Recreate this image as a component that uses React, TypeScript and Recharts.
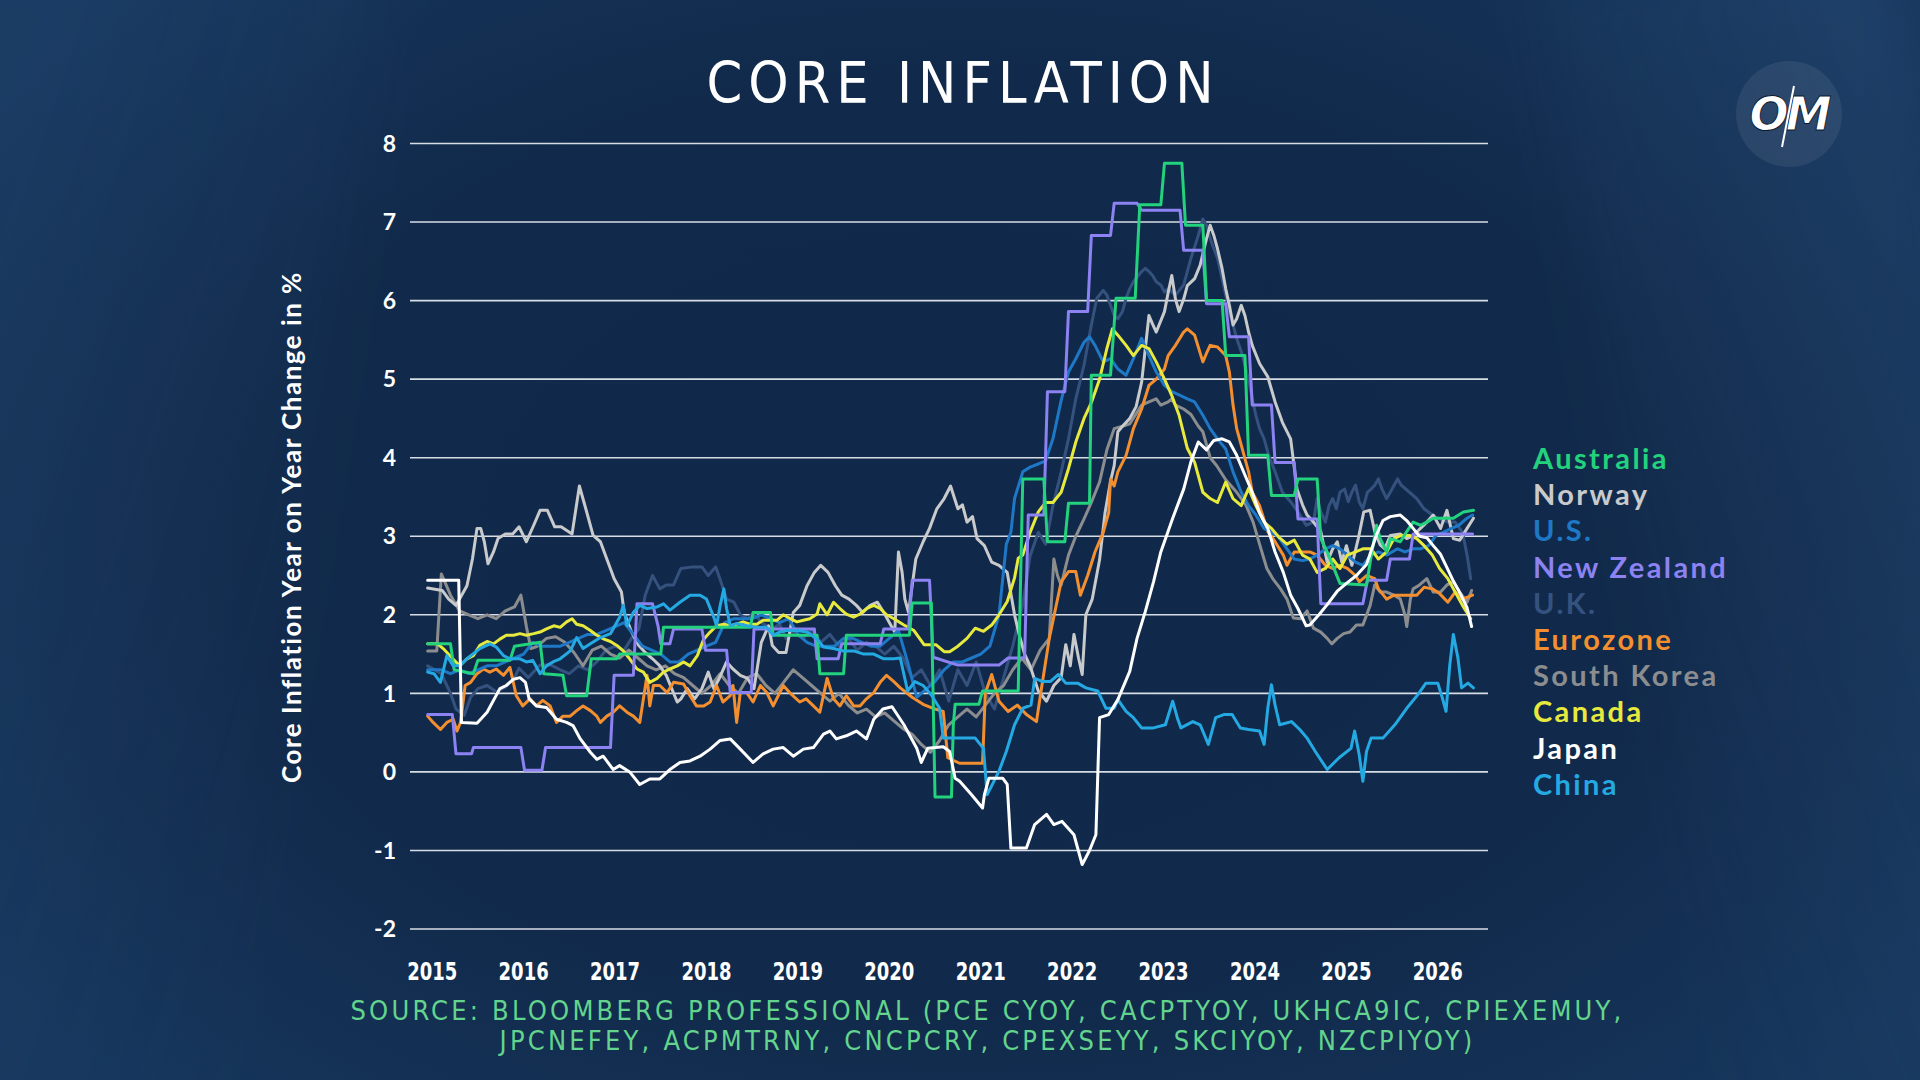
import React from 'react';
import { LineChart, Line, XAxis, YAxis, CartesianGrid } from 'recharts';

type Pt = [number, number];

// Axis ticks
const yearTicks = [2015, 2016, 2017, 2018, 2019, 2020, 2021, 2022, 2023, 2024, 2025, 2026];
const valueTicks = [-2, -1, 0, 1, 2, 3, 4, 5, 6, 7, 8];

// Core inflation, year-on-year % — [decimal year, value]
const australia: Pt[] = [
  [2014.95, 1.63], [2015.2, 1.63], [2015.24, 1.3], [2015.45, 1.25], [2015.5, 1.42], [2015.85, 1.42], [2015.9, 1.6], [2016.18, 1.65],
  [2016.22, 1.25], [2016.43, 1.23], [2016.47, 0.97], [2016.69, 0.97], [2016.74, 1.44], [2017.02, 1.44], [2017.05, 1.5], [2017.5, 1.5],
  [2017.53, 1.84], [2018.48, 1.84], [2018.51, 2.03], [2018.7, 2.03], [2018.73, 1.74], [2019.21, 1.74], [2019.24, 1.25], [2019.5, 1.25],
  [2019.53, 1.74], [2020.22, 1.74], [2020.25, 2.15], [2020.46, 2.15], [2020.5, -0.32], [2020.68, -0.32], [2020.7, 0.6], [2020.72, 0.86],
  [2020.98, 0.86], [2021.02, 1.03], [2021.41, 1.03], [2021.46, 3.73], [2021.69, 3.73], [2021.73, 2.93], [2021.92, 2.93], [2021.96, 3.42],
  [2022.19, 3.42], [2022.21, 5.05], [2022.42, 5.05], [2022.48, 6.03], [2022.69, 6.03], [2022.74, 7.22], [2022.97, 7.22], [2023.01, 7.75],
  [2023.2, 7.75], [2023.24, 6.96], [2023.43, 6.96], [2023.47, 6.0], [2023.64, 6.0], [2023.68, 5.3], [2023.89, 5.3], [2023.93, 4.03],
  [2024.14, 4.03], [2024.18, 3.52], [2024.43, 3.52], [2024.47, 3.73], [2024.68, 3.73], [2024.72, 2.97], [2024.79, 2.8], [2024.86, 2.6],
  [2024.93, 2.4], [2025.22, 2.38], [2025.26, 2.67], [2025.33, 3.14], [2025.37, 2.97], [2025.44, 2.8], [2025.48, 2.97], [2025.59, 2.93],
  [2025.66, 3.06], [2025.73, 3.18], [2025.81, 3.14], [2025.88, 3.18], [2025.95, 3.23], [2026.03, 3.23], [2026.17, 3.23], [2026.28, 3.31],
  [2026.39, 3.33],
];

const norway: Pt[] = [
  [2014.95, 2.34], [2015.11, 2.31], [2015.18, 2.2], [2015.26, 2.12], [2015.38, 2.37], [2015.44, 2.71], [2015.49, 3.1], [2015.53, 3.1],
  [2015.57, 2.93], [2015.61, 2.65], [2015.67, 2.8], [2015.72, 2.97], [2015.8, 3.03], [2015.88, 3.03], [2015.95, 3.12], [2016.03, 2.93],
  [2016.11, 3.14], [2016.18, 3.33], [2016.26, 3.33], [2016.34, 3.12], [2016.41, 3.12], [2016.53, 3.03], [2016.61, 3.64], [2016.68, 3.35],
  [2016.76, 3.01], [2016.84, 2.93], [2016.91, 2.71], [2016.99, 2.46], [2017.07, 2.29], [2017.1, 2.03], [2017.18, 1.78], [2017.26, 1.61],
  [2017.33, 1.52], [2017.41, 1.44], [2017.49, 1.35], [2017.56, 1.23], [2017.62, 1.06], [2017.68, 0.89], [2017.72, 0.93], [2017.79, 1.06],
  [2017.87, 0.93], [2017.95, 1.06], [2018.02, 1.27], [2018.08, 1.06], [2018.14, 1.19], [2018.22, 1.4], [2018.29, 1.31], [2018.37, 1.23],
  [2018.45, 1.19], [2018.52, 1.06], [2018.6, 1.65], [2018.68, 1.86], [2018.72, 1.61], [2018.79, 1.52], [2018.87, 1.52], [2018.95, 2.03],
  [2019.02, 2.12], [2019.1, 2.37], [2019.18, 2.54], [2019.25, 2.63], [2019.33, 2.54], [2019.41, 2.37], [2019.48, 2.25], [2019.56, 2.2],
  [2019.64, 2.12], [2019.71, 2.03], [2019.79, 2.12], [2019.87, 2.16], [2019.94, 2.03], [2020.02, 1.86], [2020.06, 1.78], [2020.1, 2.8],
  [2020.14, 2.54], [2020.17, 2.2], [2020.21, 2.03], [2020.25, 2.37], [2020.29, 2.71], [2020.37, 2.93], [2020.44, 3.1], [2020.52, 3.35],
  [2020.6, 3.48], [2020.67, 3.64], [2020.75, 3.35], [2020.8, 3.4], [2020.85, 3.18], [2020.91, 3.25], [2020.96, 2.97], [2021.04, 2.88],
  [2021.12, 2.67], [2021.2, 2.63], [2021.29, 2.54], [2021.37, 2.0], [2021.42, 1.75], [2021.48, 1.5], [2021.54, 1.35], [2021.63, 1.03],
  [2021.72, 0.9], [2021.8, 1.1], [2021.88, 1.2], [2021.93, 1.62], [2021.98, 1.35], [2022.02, 1.75], [2022.07, 1.45], [2022.11, 1.24],
  [2022.15, 2.0], [2022.22, 2.2], [2022.3, 2.7], [2022.36, 3.3], [2022.42, 3.7], [2022.46, 3.9], [2022.5, 4.33], [2022.55, 4.4],
  [2022.63, 4.5], [2022.7, 4.65], [2022.76, 4.96], [2022.84, 5.81], [2022.88, 5.7], [2022.92, 5.6], [2023.01, 5.86], [2023.05, 6.1],
  [2023.09, 6.32], [2023.13, 6.02], [2023.17, 5.86], [2023.22, 6.02], [2023.26, 6.19], [2023.34, 6.28], [2023.4, 6.45], [2023.47, 6.79],
  [2023.51, 6.96], [2023.55, 6.83], [2023.59, 6.66], [2023.64, 6.41], [2023.68, 6.15], [2023.72, 5.94], [2023.76, 5.69], [2023.8, 5.77],
  [2023.85, 5.94], [2023.89, 5.81], [2023.93, 5.6], [2023.97, 5.43], [2024.05, 5.2], [2024.14, 5.03], [2024.22, 4.71], [2024.3, 4.45],
  [2024.39, 4.24], [2024.46, 3.6], [2024.52, 3.4], [2024.57, 3.27], [2024.64, 3.18], [2024.72, 3.06], [2024.79, 2.67], [2024.85, 2.84],
  [2024.9, 2.93], [2024.95, 2.67], [2025.0, 2.88], [2025.06, 2.63], [2025.13, 2.97], [2025.19, 3.31], [2025.26, 3.33], [2025.31, 3.06],
  [2025.37, 2.89], [2025.42, 2.84], [2025.48, 3.01], [2025.59, 3.03], [2025.66, 2.97], [2025.73, 3.01], [2025.81, 3.1], [2025.88, 3.18],
  [2025.95, 3.27], [2026.03, 3.1], [2026.1, 3.33], [2026.17, 2.97], [2026.24, 2.95], [2026.32, 3.1], [2026.39, 3.23],
];

const unitedStates: Pt[] = [
  [2014.95, 1.3], [2015.1, 1.3], [2015.2, 1.25], [2015.3, 1.3], [2015.4, 1.25], [2015.5, 1.3], [2015.6, 1.35], [2015.7, 1.35],
  [2015.8, 1.4], [2015.9, 1.45], [2016.0, 1.5], [2016.1, 1.65], [2016.2, 1.6], [2016.3, 1.6], [2016.4, 1.6], [2016.5, 1.65],
  [2016.6, 1.7], [2016.7, 1.75], [2016.8, 1.75], [2016.9, 1.8], [2017.0, 1.85], [2017.1, 1.9], [2017.2, 1.75], [2017.3, 1.6],
  [2017.4, 1.55], [2017.5, 1.5], [2017.6, 1.4], [2017.7, 1.4], [2017.8, 1.5], [2017.9, 1.55], [2018.0, 1.6], [2018.1, 1.65],
  [2018.2, 1.9], [2018.3, 1.95], [2018.4, 1.95], [2018.5, 1.95], [2018.6, 2.0], [2018.7, 1.95], [2018.8, 1.9], [2018.9, 1.95],
  [2019.0, 1.75], [2019.1, 1.65], [2019.2, 1.6], [2019.3, 1.6], [2019.4, 1.6], [2019.5, 1.7], [2019.6, 1.7], [2019.7, 1.65],
  [2019.8, 1.6], [2019.9, 1.6], [2020.0, 1.7], [2020.1, 1.8], [2020.2, 1.4], [2020.3, 0.95], [2020.4, 1.05], [2020.5, 1.15],
  [2020.6, 1.3], [2020.7, 1.4], [2020.8, 1.4], [2020.9, 1.45], [2021.0, 1.5], [2021.1, 1.6], [2021.2, 2.0], [2021.28, 2.9],
  [2021.33, 3.05], [2021.37, 3.48], [2021.46, 3.82], [2021.54, 3.88], [2021.63, 3.92], [2021.71, 3.96], [2021.79, 4.24], [2021.88, 4.73],
  [2021.96, 5.09], [2022.04, 5.26], [2022.13, 5.47], [2022.19, 5.54], [2022.25, 5.43], [2022.34, 5.22], [2022.42, 5.26], [2022.5, 5.13],
  [2022.59, 5.05], [2022.67, 5.26], [2022.76, 5.52], [2022.84, 5.3], [2022.92, 5.09], [2023.01, 4.92], [2023.09, 4.84], [2023.17, 4.8],
  [2023.26, 4.75], [2023.34, 4.71], [2023.43, 4.54], [2023.51, 4.37], [2023.59, 4.24], [2023.68, 4.11], [2023.76, 3.82], [2023.85, 3.56],
  [2023.93, 3.39], [2024.01, 3.27], [2024.1, 3.1], [2024.18, 3.05], [2024.26, 2.99], [2024.35, 2.84], [2024.43, 2.71], [2024.52, 2.69],
  [2024.6, 2.71], [2024.68, 2.76], [2024.77, 2.84], [2024.85, 2.88], [2024.93, 2.84], [2025.01, 2.76], [2025.1, 2.67], [2025.18, 2.63],
  [2025.27, 2.76], [2025.35, 2.8], [2025.44, 2.76], [2025.56, 2.84], [2025.64, 2.8], [2025.73, 2.84], [2025.81, 2.84], [2025.9, 2.88],
  [2025.98, 3.01], [2026.06, 3.05], [2026.15, 3.1], [2026.23, 3.14], [2026.32, 3.23], [2026.38, 3.27],
];

const newZealand: Pt[] = [
  [2014.95, 0.73], [2015.22, 0.73], [2015.26, 0.23], [2015.43, 0.23], [2015.45, 0.31], [2015.97, 0.31], [2016.01, 0.02], [2016.2, 0.02],
  [2016.24, 0.31], [2016.95, 0.31], [2016.99, 1.23], [2017.2, 1.23], [2017.24, 2.14], [2017.41, 2.14], [2017.47, 1.86], [2017.5, 1.63],
  [2017.6, 1.63], [2017.64, 1.82], [2017.95, 1.82], [2017.99, 1.55], [2018.22, 1.55], [2018.26, 1.01], [2018.49, 1.01], [2018.52, 1.82],
  [2019.18, 1.82], [2019.21, 1.44], [2019.44, 1.44], [2019.48, 1.63], [2019.9, 1.63], [2019.94, 1.82], [2020.21, 1.82], [2020.25, 2.44],
  [2020.44, 2.44], [2020.48, 1.46], [2020.75, 1.36], [2021.2, 1.36], [2021.3, 1.45], [2021.48, 1.45], [2021.52, 3.27], [2021.69, 3.27],
  [2021.73, 4.84], [2021.92, 4.84], [2021.96, 5.86], [2022.17, 5.86], [2022.21, 6.83], [2022.42, 6.83], [2022.46, 7.24], [2022.71, 7.24],
  [2022.76, 7.15], [2023.18, 7.15], [2023.22, 6.64], [2023.43, 6.64], [2023.47, 5.96], [2023.68, 5.96], [2023.72, 5.54], [2023.93, 5.54],
  [2023.97, 4.67], [2024.18, 4.67], [2024.22, 3.94], [2024.43, 3.94], [2024.47, 3.22], [2024.68, 3.22], [2024.72, 2.14], [2025.18, 2.14],
  [2025.23, 2.44], [2025.44, 2.44], [2025.48, 2.71], [2025.69, 2.71], [2025.73, 3.03], [2026.38, 3.03],
];

const unitedKingdom: Pt[] = [
  [2014.95, 1.35], [2015.1, 1.25], [2015.2, 1.0], [2015.26, 0.8], [2015.35, 0.72], [2015.42, 0.95], [2015.5, 1.06], [2015.6, 1.1],
  [2015.7, 1.02], [2015.8, 1.08], [2015.9, 1.2], [2015.95, 1.32], [2016.05, 1.2], [2016.18, 1.36], [2016.3, 1.36], [2016.4, 1.3],
  [2016.5, 1.25], [2016.6, 1.35], [2016.7, 1.3], [2016.8, 1.4], [2016.9, 1.55], [2017.0, 1.6], [2017.1, 1.55], [2017.18, 1.7],
  [2017.26, 1.82], [2017.33, 2.25], [2017.41, 2.5], [2017.49, 2.33], [2017.56, 2.38], [2017.64, 2.38], [2017.72, 2.59], [2017.85, 2.61],
  [2017.95, 2.61], [2018.02, 2.5], [2018.1, 2.61], [2018.15, 2.45], [2018.22, 2.2], [2018.3, 2.16], [2018.37, 2.0], [2018.45, 1.95],
  [2018.52, 2.03], [2018.6, 1.9], [2018.72, 1.82], [2018.8, 1.88], [2018.87, 1.7], [2018.95, 1.78], [2019.05, 1.7], [2019.15, 1.8],
  [2019.25, 1.65], [2019.35, 1.75], [2019.45, 1.6], [2019.55, 1.7], [2019.65, 1.55], [2019.75, 1.65], [2019.85, 1.6], [2019.95, 1.5],
  [2020.05, 1.6], [2020.15, 1.45], [2020.25, 1.2], [2020.35, 1.3], [2020.45, 1.1], [2020.55, 1.3], [2020.65, 0.9], [2020.75, 1.3],
  [2020.85, 1.1], [2020.95, 1.4], [2021.05, 1.0], [2021.15, 0.8], [2021.25, 1.2], [2021.35, 1.6], [2021.46, 2.13], [2021.54, 2.75],
  [2021.63, 3.05], [2021.71, 2.9], [2021.79, 3.39], [2021.88, 3.82], [2021.96, 4.24], [2022.04, 4.75], [2022.13, 5.18], [2022.21, 5.69],
  [2022.27, 6.03], [2022.34, 6.13], [2022.38, 6.07], [2022.46, 5.81], [2022.5, 5.77], [2022.55, 5.86], [2022.59, 6.03], [2022.63, 6.15],
  [2022.67, 6.24], [2022.76, 6.37], [2022.8, 6.41], [2022.84, 6.37], [2022.88, 6.32], [2022.92, 6.24], [2022.97, 6.2], [2023.01, 6.11],
  [2023.05, 6.15], [2023.13, 6.07], [2023.22, 6.2], [2023.3, 6.54], [2023.38, 6.83], [2023.43, 7.04], [2023.47, 6.96], [2023.51, 6.79],
  [2023.55, 6.66], [2023.59, 6.54], [2023.64, 6.28], [2023.68, 6.07], [2023.72, 5.86], [2023.76, 5.69], [2023.8, 5.52], [2023.85, 5.35],
  [2023.89, 5.18], [2023.93, 5.0], [2023.97, 4.75], [2024.01, 4.54], [2024.05, 4.37], [2024.1, 4.24], [2024.14, 4.07], [2024.18, 3.94],
  [2024.22, 3.82], [2024.26, 3.69], [2024.3, 3.56], [2024.39, 3.44], [2024.47, 3.31], [2024.56, 3.14], [2024.64, 3.18], [2024.68, 3.48],
  [2024.72, 3.31], [2024.77, 3.18], [2024.81, 3.39], [2024.85, 3.48], [2024.89, 3.35], [2024.93, 3.56], [2024.98, 3.6], [2025.02, 3.44],
  [2025.06, 3.56], [2025.1, 3.65], [2025.14, 3.44], [2025.18, 3.35], [2025.23, 3.56], [2025.27, 3.6], [2025.31, 3.65], [2025.35, 3.73],
  [2025.39, 3.6], [2025.44, 3.48], [2025.48, 3.56], [2025.56, 3.73], [2025.6, 3.65], [2025.69, 3.56], [2025.77, 3.48], [2025.85, 3.35],
  [2025.94, 3.27], [2026.02, 3.22], [2026.11, 3.18], [2026.19, 3.18], [2026.27, 3.05], [2026.32, 2.76], [2026.36, 2.46],
];

const eurozone: Pt[] = [
  [2014.95, 0.71], [2015.01, 0.63], [2015.09, 0.54], [2015.16, 0.63], [2015.23, 0.67], [2015.27, 0.52], [2015.31, 0.63], [2015.36, 1.1],
  [2015.42, 1.14], [2015.49, 1.25], [2015.56, 1.31], [2015.63, 1.27], [2015.7, 1.31], [2015.78, 1.23], [2015.85, 1.33], [2015.92, 0.97],
  [2015.99, 0.84], [2016.07, 0.93], [2016.14, 0.84], [2016.21, 0.91], [2016.29, 0.84], [2016.36, 0.63], [2016.43, 0.71], [2016.51, 0.71],
  [2016.58, 0.78], [2016.65, 0.84], [2016.73, 0.78], [2016.8, 0.71], [2016.84, 0.63], [2016.91, 0.71], [2016.98, 0.76], [2017.05, 0.84],
  [2017.13, 0.76], [2017.2, 0.71], [2017.27, 0.63], [2017.35, 1.23], [2017.38, 0.84], [2017.42, 1.1], [2017.49, 1.1], [2017.57, 1.01],
  [2017.64, 1.14], [2017.75, 1.12], [2017.82, 0.97], [2017.89, 0.84], [2017.97, 0.84], [2018.04, 0.89], [2018.11, 1.1], [2018.18, 0.89],
  [2018.26, 0.97], [2018.29, 1.1], [2018.33, 0.63], [2018.37, 1.01], [2018.44, 1.01], [2018.51, 0.89], [2018.59, 1.1], [2018.66, 1.01],
  [2018.73, 0.84], [2018.84, 1.1], [2018.91, 1.01], [2019.02, 0.89], [2019.09, 0.93], [2019.17, 0.84], [2019.24, 0.76], [2019.32, 1.19],
  [2019.39, 0.93], [2019.46, 0.84], [2019.53, 0.97], [2019.61, 0.84], [2019.68, 0.84], [2019.75, 0.93], [2019.83, 1.01], [2019.9, 1.14],
  [2019.97, 1.23], [2020.05, 1.15], [2020.12, 1.07], [2020.25, 0.95], [2020.37, 0.86], [2020.5, 0.8], [2020.59, 0.77], [2020.64, 0.18],
  [2020.77, 0.11], [2021.02, 0.11], [2021.05, 1.0], [2021.12, 1.24], [2021.2, 0.9], [2021.3, 0.77], [2021.4, 0.85], [2021.5, 0.73],
  [2021.61, 0.64], [2021.66, 1.03], [2021.75, 1.7], [2021.88, 2.42], [2021.96, 2.55], [2022.04, 2.55], [2022.09, 2.25], [2022.17, 2.5],
  [2022.25, 2.8], [2022.34, 3.05], [2022.4, 3.3], [2022.42, 3.73], [2022.46, 3.64], [2022.5, 3.82], [2022.59, 4.03], [2022.67, 4.37],
  [2022.76, 4.62], [2022.84, 4.92], [2022.92, 5.0], [2023.01, 5.13], [2023.05, 5.3], [2023.13, 5.43], [2023.22, 5.6], [2023.26, 5.64],
  [2023.34, 5.56], [2023.43, 5.22], [2023.47, 5.33], [2023.51, 5.43], [2023.59, 5.41], [2023.68, 5.3], [2023.72, 5.09], [2023.76, 4.67],
  [2023.8, 4.37], [2023.85, 4.16], [2023.93, 3.82], [2023.97, 3.56], [2024.05, 3.39], [2024.14, 3.06], [2024.22, 2.93], [2024.31, 2.76],
  [2024.35, 2.63], [2024.43, 2.8], [2024.52, 2.8], [2024.6, 2.8], [2024.68, 2.76], [2024.77, 2.63], [2024.85, 2.59], [2024.93, 2.63],
  [2025.01, 2.59], [2025.1, 2.5], [2025.14, 2.42], [2025.22, 2.5], [2025.31, 2.46], [2025.35, 2.33], [2025.44, 2.2], [2025.52, 2.25],
  [2025.6, 2.25], [2025.69, 2.25], [2025.77, 2.25], [2025.85, 2.35], [2025.94, 2.33], [2026.02, 2.27], [2026.11, 2.16], [2026.19, 2.29],
  [2026.27, 2.2], [2026.38, 2.25],
];

const southKorea: Pt[] = [
  [2014.95, 1.54], [2015.05, 1.54], [2015.1, 2.52], [2015.2, 2.25], [2015.3, 2.05], [2015.4, 2.0], [2015.5, 1.95], [2015.6, 2.0],
  [2015.7, 1.95], [2015.8, 2.05], [2015.9, 2.1], [2015.97, 2.25], [2016.03, 1.85], [2016.08, 1.57], [2016.15, 1.6], [2016.25, 1.7],
  [2016.35, 1.72], [2016.45, 1.65], [2016.55, 1.52], [2016.65, 1.35], [2016.75, 1.55], [2016.85, 1.6], [2016.95, 1.5], [2017.05, 1.45],
  [2017.15, 1.55], [2017.25, 1.45], [2017.35, 1.35], [2017.45, 1.3], [2017.55, 1.35], [2017.65, 1.25], [2017.75, 1.2], [2017.85, 1.1],
  [2017.95, 1.0], [2018.05, 1.1], [2018.15, 1.25], [2018.25, 1.1], [2018.35, 1.0], [2018.45, 1.2], [2018.55, 1.25], [2018.65, 1.1],
  [2018.75, 1.0], [2018.85, 1.15], [2018.95, 1.3], [2019.05, 1.2], [2019.15, 1.1], [2019.25, 1.0], [2019.35, 0.9], [2019.45, 1.0],
  [2019.55, 0.85], [2019.65, 0.75], [2019.75, 0.8], [2019.85, 0.7], [2019.95, 0.75], [2020.05, 0.65], [2020.15, 0.55], [2020.25, 0.48],
  [2020.35, 0.35], [2020.45, 0.25], [2020.55, 0.4], [2020.65, 0.6], [2020.75, 0.7], [2020.85, 0.8], [2020.95, 0.7], [2021.05, 0.85],
  [2021.15, 1.0], [2021.25, 1.1], [2021.35, 1.3], [2021.45, 1.45], [2021.55, 1.3], [2021.65, 1.55], [2021.75, 1.7], [2021.8, 2.71],
  [2021.84, 2.5], [2021.88, 2.38], [2021.96, 2.76], [2022.04, 3.0], [2022.13, 3.22], [2022.21, 3.43], [2022.3, 3.69], [2022.38, 4.1],
  [2022.46, 4.37], [2022.55, 4.4], [2022.63, 4.43], [2022.76, 4.67], [2022.84, 4.71], [2022.92, 4.75], [2022.97, 4.67], [2023.05, 4.71],
  [2023.09, 4.75], [2023.13, 4.67], [2023.22, 4.62], [2023.3, 4.55], [2023.38, 4.4], [2023.43, 4.33], [2023.51, 4.0], [2023.58, 3.9],
  [2023.68, 3.72], [2023.8, 3.56], [2023.9, 3.4], [2023.98, 3.18], [2024.05, 2.9], [2024.13, 2.59], [2024.2, 2.45], [2024.28, 2.33],
  [2024.35, 2.2], [2024.42, 1.96], [2024.5, 1.95], [2024.57, 2.05], [2024.64, 1.83], [2024.72, 1.78], [2024.79, 1.7], [2024.84, 1.63],
  [2024.9, 1.7], [2024.97, 1.76], [2025.04, 1.78], [2025.11, 1.87], [2025.18, 1.87], [2025.26, 2.12], [2025.31, 2.38], [2025.37, 2.29],
  [2025.44, 2.29], [2025.52, 2.25], [2025.59, 2.2], [2025.64, 2.0], [2025.66, 1.85], [2025.7, 2.2], [2025.73, 2.33], [2025.8, 2.38],
  [2025.88, 2.46], [2025.95, 2.29], [2026.03, 2.29], [2026.1, 2.38], [2026.17, 2.42], [2026.24, 2.29], [2026.32, 2.16], [2026.37, 2.31],
];

const canada: Pt[] = [
  [2014.95, 1.63], [2015.06, 1.63], [2015.12, 1.57], [2015.21, 1.46], [2015.3, 1.35], [2015.38, 1.44], [2015.45, 1.48], [2015.52, 1.61],
  [2015.6, 1.66], [2015.67, 1.63], [2015.74, 1.69], [2015.81, 1.74], [2015.89, 1.74], [2015.96, 1.76], [2016.03, 1.74], [2016.11, 1.76],
  [2016.18, 1.78], [2016.25, 1.82], [2016.33, 1.86], [2016.4, 1.84], [2016.47, 1.91], [2016.53, 1.95], [2016.58, 1.88], [2016.65, 1.86],
  [2016.73, 1.8], [2016.8, 1.74], [2016.88, 1.69], [2016.95, 1.66], [2017.02, 1.61], [2017.09, 1.54], [2017.16, 1.44], [2017.24, 1.31],
  [2017.31, 1.27], [2017.38, 1.14], [2017.46, 1.19], [2017.53, 1.27], [2017.6, 1.31], [2017.68, 1.35], [2017.75, 1.4], [2017.82, 1.35],
  [2017.9, 1.48], [2017.97, 1.69], [2018.04, 1.78], [2018.11, 1.86], [2018.19, 1.88], [2018.26, 1.86], [2018.33, 1.88], [2018.4, 1.91],
  [2018.48, 1.88], [2018.55, 1.88], [2018.62, 1.93], [2018.7, 1.93], [2018.77, 1.93], [2018.84, 2.0], [2018.92, 1.95], [2018.99, 1.91],
  [2019.06, 1.93], [2019.13, 1.95], [2019.21, 2.01], [2019.24, 2.14], [2019.32, 2.0], [2019.39, 2.16], [2019.46, 2.08], [2019.53, 2.01],
  [2019.61, 1.97], [2019.68, 2.01], [2019.75, 2.08], [2019.83, 2.12], [2019.9, 2.08], [2019.97, 2.0], [2020.05, 1.95], [2020.16, 1.87],
  [2020.27, 1.8], [2020.38, 1.62], [2020.51, 1.62], [2020.6, 1.53], [2020.66, 1.53], [2020.75, 1.6], [2020.85, 1.7], [2020.94, 1.83],
  [2021.03, 1.79], [2021.12, 1.87], [2021.2, 2.0], [2021.29, 2.17], [2021.37, 2.47], [2021.41, 2.72], [2021.46, 2.76], [2021.54, 3.05],
  [2021.63, 3.31], [2021.71, 3.43], [2021.79, 3.43], [2021.88, 3.56], [2021.96, 3.86], [2022.04, 4.2], [2022.13, 4.5], [2022.21, 4.7],
  [2022.3, 5.0], [2022.38, 5.39], [2022.44, 5.64], [2022.5, 5.56], [2022.59, 5.43], [2022.67, 5.3], [2022.76, 5.43], [2022.84, 5.39],
  [2022.92, 5.22], [2023.01, 5.0], [2023.09, 4.79], [2023.17, 4.54], [2023.26, 4.12], [2023.34, 3.94], [2023.43, 3.56], [2023.51, 3.48],
  [2023.59, 3.43], [2023.68, 3.69], [2023.76, 3.48], [2023.85, 3.39], [2023.93, 3.61], [2024.01, 3.39], [2024.1, 3.18], [2024.18, 3.1],
  [2024.26, 2.99], [2024.35, 2.9], [2024.43, 2.95], [2024.52, 2.76], [2024.6, 2.71], [2024.68, 2.54], [2024.77, 2.59], [2024.85, 2.71],
  [2024.93, 2.59], [2025.01, 2.76], [2025.1, 2.8], [2025.18, 2.84], [2025.27, 2.84], [2025.35, 2.71], [2025.44, 2.8], [2025.52, 2.97],
  [2025.6, 3.01], [2025.69, 3.01], [2025.77, 2.97], [2025.85, 2.88], [2025.94, 2.76], [2026.02, 2.59], [2026.11, 2.46], [2026.19, 2.29],
  [2026.27, 2.12], [2026.36, 1.95],
];

const japan: Pt[] = [
  [2014.95, 2.44], [2015.29, 2.44], [2015.32, 0.63], [2015.49, 0.62], [2015.6, 0.76], [2015.74, 1.06], [2015.81, 1.1], [2015.89, 1.18],
  [2015.96, 1.2], [2016.02, 1.14], [2016.06, 0.93], [2016.14, 0.84], [2016.25, 0.82], [2016.36, 0.67], [2016.47, 0.63], [2016.54, 0.59],
  [2016.62, 0.42], [2016.73, 0.25], [2016.8, 0.16], [2016.87, 0.2], [2016.98, 0.03], [2017.05, 0.08], [2017.16, 0.0], [2017.27, -0.16],
  [2017.38, -0.09], [2017.49, -0.09], [2017.6, 0.03], [2017.71, 0.12], [2017.82, 0.14], [2017.93, 0.2], [2018.04, 0.29], [2018.15, 0.4],
  [2018.26, 0.42], [2018.37, 0.29], [2018.51, 0.12], [2018.62, 0.23], [2018.73, 0.29], [2018.84, 0.31], [2018.95, 0.2], [2019.06, 0.29],
  [2019.17, 0.31], [2019.28, 0.48], [2019.35, 0.52], [2019.42, 0.42], [2019.53, 0.46], [2019.64, 0.52], [2019.75, 0.42], [2019.83, 0.67],
  [2019.93, 0.8], [2020.03, 0.83], [2020.16, 0.6], [2020.3, 0.3], [2020.35, 0.12], [2020.42, 0.3], [2020.59, 0.32], [2020.66, 0.26],
  [2020.72, -0.08], [2020.77, -0.12], [2020.9, -0.29], [2021.02, -0.46], [2021.04, -0.29], [2021.09, -0.08], [2021.24, -0.08], [2021.29, -0.16],
  [2021.33, -0.97], [2021.5, -0.97], [2021.59, -0.67], [2021.72, -0.54], [2021.8, -0.67], [2021.89, -0.63], [2022.02, -0.8], [2022.11, -1.18],
  [2022.19, -1.0], [2022.26, -0.8], [2022.3, 0.69], [2022.4, 0.73], [2022.5, 0.92], [2022.63, 1.28], [2022.71, 1.7], [2022.8, 2.04],
  [2022.89, 2.42], [2022.97, 2.8], [2023.1, 3.23], [2023.22, 3.6], [2023.3, 3.95], [2023.38, 4.2], [2023.47, 4.1], [2023.55, 4.22],
  [2023.64, 4.24], [2023.72, 4.2], [2023.8, 4.03], [2023.89, 3.78], [2023.97, 3.56], [2024.05, 3.3], [2024.14, 3.1], [2024.22, 2.8],
  [2024.31, 2.54], [2024.39, 2.25], [2024.47, 2.08], [2024.56, 1.86], [2024.6, 1.87], [2024.7, 2.0], [2024.79, 2.13], [2024.9, 2.3],
  [2025.0, 2.4], [2025.11, 2.5], [2025.22, 2.64], [2025.33, 3.02], [2025.4, 3.2], [2025.48, 3.25], [2025.59, 3.27], [2025.66, 3.2],
  [2025.73, 3.1], [2025.8, 3.0], [2025.88, 2.98], [2025.95, 2.88], [2026.03, 2.77], [2026.1, 2.6], [2026.17, 2.43], [2026.25, 2.26],
  [2026.32, 2.09], [2026.37, 1.85],
];

const china: Pt[] = [
  [2014.95, 1.27], [2015.02, 1.25], [2015.09, 1.14], [2015.16, 1.48], [2015.23, 1.35], [2015.3, 1.35], [2015.38, 1.44], [2015.52, 1.57],
  [2015.63, 1.63], [2015.7, 1.59], [2015.78, 1.48], [2015.85, 1.44], [2015.96, 1.44], [2016.03, 1.4], [2016.1, 1.42], [2016.18, 1.25],
  [2016.25, 1.35], [2016.32, 1.4], [2016.4, 1.44], [2016.51, 1.54], [2016.58, 1.71], [2016.65, 1.57], [2016.73, 1.63], [2016.84, 1.71],
  [2016.95, 1.76], [2017.05, 1.97], [2017.09, 2.12], [2017.13, 1.86], [2017.2, 2.03], [2017.27, 2.12], [2017.35, 2.08], [2017.46, 2.1],
  [2017.53, 2.14], [2017.6, 2.06], [2017.71, 2.16], [2017.82, 2.25], [2017.93, 2.25], [2018.0, 2.2], [2018.08, 1.97], [2018.11, 1.86],
  [2018.15, 2.12], [2018.19, 2.33], [2018.22, 2.08], [2018.26, 1.86], [2018.33, 1.89], [2018.44, 1.86], [2018.55, 1.84], [2018.66, 1.84],
  [2018.73, 1.74], [2018.8, 1.78], [2018.88, 1.8], [2018.99, 1.8], [2019.1, 1.78], [2019.21, 1.69], [2019.28, 1.59], [2019.39, 1.57],
  [2019.5, 1.54], [2019.61, 1.54], [2019.72, 1.5], [2019.83, 1.5], [2019.94, 1.44], [2020.05, 1.44], [2020.12, 1.45], [2020.2, 1.03],
  [2020.28, 1.15], [2020.37, 1.1], [2020.46, 0.98], [2020.55, 0.81], [2020.59, 0.43], [2020.94, 0.43], [2021.03, 0.3], [2021.07, -0.29],
  [2021.11, -0.2], [2021.2, 0.01], [2021.28, 0.26], [2021.37, 0.6], [2021.46, 0.81], [2021.55, 0.85], [2021.59, 1.19], [2021.68, 1.15],
  [2021.76, 1.15], [2021.85, 1.24], [2021.93, 1.13], [2022.06, 1.13], [2022.15, 1.07], [2022.28, 1.03], [2022.37, 0.81], [2022.46, 0.81],
  [2022.5, 0.92], [2022.59, 0.77], [2022.67, 0.69], [2022.76, 0.56], [2022.89, 0.56], [2023.02, 0.6], [2023.1, 0.9], [2023.15, 0.69],
  [2023.19, 0.56], [2023.32, 0.64], [2023.4, 0.6], [2023.49, 0.35], [2023.57, 0.69], [2023.66, 0.73], [2023.75, 0.73], [2023.84, 0.56],
  [2023.93, 0.54], [2024.05, 0.52], [2024.1, 0.35], [2024.14, 0.81], [2024.18, 1.11], [2024.22, 0.85], [2024.27, 0.6], [2024.4, 0.64],
  [2024.49, 0.54], [2024.57, 0.43], [2024.66, 0.26], [2024.79, 0.03], [2024.92, 0.18], [2025.05, 0.3], [2025.09, 0.52], [2025.14, 0.22],
  [2025.18, -0.12], [2025.22, 0.26], [2025.27, 0.43], [2025.4, 0.43], [2025.53, 0.6], [2025.66, 0.81], [2025.78, 0.98], [2025.87, 1.13],
  [2026.0, 1.13], [2026.05, 0.94], [2026.09, 0.77], [2026.13, 1.35], [2026.17, 1.75], [2026.22, 1.45], [2026.26, 1.07], [2026.33, 1.13],
  [2026.39, 1.07],
];

type Series = { name: string; color: string; points: Pt[] };

// Drawing order (later series sit on top)
const drawOrder: Series[] = [
  { name: 'U.K.', color: '#35527f', points: unitedKingdom },
  { name: 'South Korea', color: '#8c8d8f', points: southKorea },
  { name: 'Norway', color: '#c9cacc', points: norway },
  { name: 'Eurozone', color: '#f48f2f', points: eurozone },
  { name: 'U.S.', color: '#1e78c6', points: unitedStates },
  { name: 'Canada', color: '#e7e93c', points: canada },
  { name: 'New Zealand', color: '#8c82f2', points: newZealand },
  { name: 'Australia', color: '#22d27c', points: australia },
  { name: 'China', color: '#24a9e3', points: china },
  { name: 'Japan', color: '#ffffff', points: japan },
];

const legendOrder = ['Australia', 'Norway', 'U.S.', 'New Zealand', 'U.K.', 'Eurozone', 'South Korea', 'Canada', 'Japan', 'China'];

const toRows = (pts: Pt[]) => pts.map(([t, v]) => ({ t, v }));

const condensed = "'DejaVu Sans Condensed', 'Liberation Sans Narrow', sans-serif";
const geometric = "Lato, 'Open Sans', sans-serif";

// Year labels in a narrow bold face
const YearTick = (props: any) => {
  const { x, y, payload } = props;
  return (
    <g transform={`translate(${x},${y})`}>
      <text
        transform="scale(0.8,1)"
        x={0}
        y={0}
        dy={19}
        textAnchor="middle"
        fill="#ffffff"
        fontSize={25}
        fontWeight={700}
        fontFamily={condensed}
      >
        {payload.value}
      </text>
    </g>
  );
};

export default function App() {
  const colorOf = (name: string) => drawOrder.find((s) => s.name === name)!.color;
  return (
    <div
      style={{
        position: 'absolute',
        left: 0,
        top: 0,
        width: 1920,
        height: 1080,
        overflow: 'hidden',
        background:
          'radial-gradient(ellipse 62% 72% at 50% 50%, #10284a 0%, #112a4b 60%, #16365c 100%)',
      }}
    >
      {/* soft light streaks on the edges */}
      <div
        style={{
          position: 'absolute',
          left: -120,
          top: -80,
          width: 420,
          height: 1300,
          background: 'linear-gradient(100deg, rgba(60,100,150,0.16), rgba(60,100,150,0))',
          transform: 'rotate(8deg)',
          filter: 'blur(30px)',
        }}
      />
      <div
        style={{
          position: 'absolute',
          right: -80,
          top: -60,
          width: 360,
          height: 1250,
          background: 'linear-gradient(260deg, rgba(70,110,160,0.18), rgba(70,110,160,0))',
          transform: 'rotate(-10deg)',
          filter: 'blur(30px)',
        }}
      />

      <div
        style={{
          position: 'absolute',
          left: 0,
          width: 1920,
          top: 47,
          textAlign: 'center',
          paddingLeft: 6,
          boxSizing: 'border-box',
          color: '#ffffff',
          fontFamily: condensed,
          fontSize: 57,
          lineHeight: '72px',
          letterSpacing: 6,
          fontWeight: 400,
        }}
      >
        CORE INFLATION
      </div>

      {/* brand badge */}
      <div
        style={{
          position: 'absolute',
          left: 1736,
          top: 61,
          width: 106,
          height: 106,
          borderRadius: '50%',
          background: 'rgba(255,255,255,0.07)',
        }}
      />
      <svg style={{ position: 'absolute', left: 1736, top: 61 }} width={106} height={106}>
        <text
          x={53}
          y={69}
          textAnchor="middle"
          fill="#ffffff"
          fontFamily="'DejaVu Sans', sans-serif"
          fontWeight={900}
          fontStyle="italic"
          fontSize={46}
          letterSpacing={-3}
          stroke="#0b1a30"
          strokeWidth={1}
        >
          OM
        </text>
        <line x1={58} y1={25} x2={46} y2={86} stroke="#ffffff" strokeWidth={2} />
      </svg>

      <div
        style={{
          position: 'absolute',
          left: 291 - 300,
          top: 527 - 18,
          width: 600,
          height: 36,
          lineHeight: '36px',
          textAlign: 'center',
          transform: 'rotate(-90deg)',
          color: '#ffffff',
          fontFamily: geometric,
          fontWeight: 700,
          fontSize: 26,
          letterSpacing: 1.5,
        }}
      >
        Core Inflation Year on Year Change in %
      </div>

      <div style={{ position: 'absolute', left: 0, top: 0 }}>
        <LineChart width={1920} height={1080} margin={{ top: 143.5, right: 432, bottom: 91, left: 300 }}>
          <CartesianGrid horizontal vertical={false} stroke="#d8dde5" strokeWidth={1.6} />
          <XAxis
            type="number"
            dataKey="t"
            domain={[2014.757, 2026.549]}
            ticks={yearTicks}
            allowDataOverflow
            axisLine={false}
            tickLine={false}
            height={60}
            tickMargin={26}
            interval={0}
            tick={<YearTick />}
          />
          <YAxis
            type="number"
            dataKey="v"
            domain={[-2, 8]}
            ticks={valueTicks}
            allowDataOverflow
            axisLine={false}
            tickLine={false}
            width={110}
            tickMargin={8}
            interval={0}
            tick={{ fill: '#ffffff', fontSize: 23, fontWeight: 700, fontFamily: geometric }}
          />
          {drawOrder.map((s) => (
            <Line
              key={s.name}
              name={s.name}
              data={toRows(s.points)}
              dataKey="v"
              type="linear"
              stroke={s.color}
              strokeWidth={3}
              strokeLinejoin="round"
              strokeLinecap="round"
              dot={false}
              activeDot={false}
              isAnimationActive={false}
            />
          ))}
        </LineChart>
      </div>

      {legendOrder.map((name, i) => (
        <div
          key={name}
          style={{
            position: 'absolute',
            left: 1533,
            top: 458 - 19 + i * 36.2,
            height: 38,
            lineHeight: '38px',
            color: colorOf(name),
            fontFamily: geometric,
            fontWeight: 700,
            fontSize: 29,
            letterSpacing: 2.4,
            whiteSpace: 'nowrap',
          }}
        >
          {name}
        </div>
      ))}

      <div
        style={{
          position: 'absolute',
          left: 0,
          width: 1975,
          top: 996,
          textAlign: 'center',
          color: '#63d48d',
          fontFamily: condensed,
          fontSize: 27,
          lineHeight: '30px',
          letterSpacing: 3.2,
        }}
      >
        SOURCE: BLOOMBERG PROFESSIONAL (PCE CYOY, CACPTYOY, UKHCA9IC, CPIEXEMUY,
        <br />
        JPCNEFEY, ACPMTRNY, CNCPCRY, CPEXSEYY, SKCIYOY, NZCPIYOY)
      </div>
    </div>
  );
}
